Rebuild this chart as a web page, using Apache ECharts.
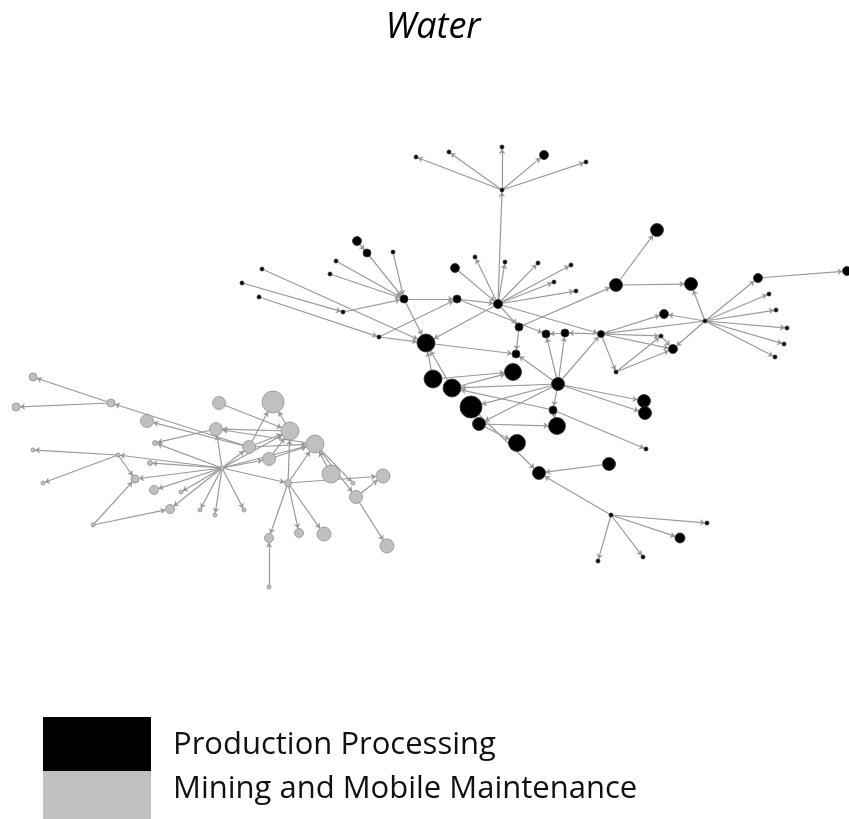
<!DOCTYPE html>
<html>
<head>
<meta charset="utf-8">
<title>Water</title>
<script src="https://cdn.jsdelivr.net/npm/echarts@6/dist/echarts.min.js"></script>
<style>
  html, body { margin: 0; padding: 0; background: #fff; }
  #chart { width: 849px; height: 819px; }
</style>
</head>
<body>
<div id="chart"></div>
<script>
// layout coordinates of each node (x, y) and its weight (drawn diameter)
const prodNodes = [
  ['p0', 502, 190, 4], ['p1', 502, 147, 4], ['p2', 416, 157, 4], ['p3', 449, 152, 4],
  ['p4', 544, 155, 9], ['p5', 586, 162, 4], ['p6', 498, 304, 9], ['p7', 457, 299, 8],
  ['p8', 404, 299, 8], ['p9', 426, 343, 18], ['p10', 519, 327, 8], ['p11', 546, 334, 8],
  ['p12', 516, 354, 8], ['p13', 343, 312, 4], ['p14', 379, 337, 4], ['p15', 242, 283, 4],
  ['p16', 262, 269, 4], ['p17', 259, 297, 4], ['p18', 330, 274, 4], ['p19', 336, 261, 4],
  ['p20', 393, 252, 4], ['p21', 357, 241, 9], ['p22', 367, 253, 8], ['p23', 455, 268, 9],
  ['p24', 475, 257, 4], ['p25', 505, 262, 4], ['p26', 538, 263, 4], ['p27', 571, 265, 4],
  ['p28', 554, 282, 4], ['p29', 576, 291, 4], ['p30', 616, 285, 13], ['p31', 565, 333, 8],
  ['p32', 601, 334, 7], ['p33', 513, 372, 17], ['p34', 558, 384, 13], ['p35', 664, 314, 9],
  ['p36', 673, 349, 9], ['p37', 616, 372, 4], ['p38', 661, 336, 4], ['p39', 657, 230, 13],
  ['p40', 691, 284, 13], ['p41', 705, 321, 4], ['p42', 758, 278, 9], ['p43', 847, 271, 9],
  ['p44', 769, 294, 4], ['p45', 776, 310, 4], ['p46', 787, 328, 4], ['p47', 784, 344, 4],
  ['p48', 775, 357, 4], ['p49', 433, 379, 18], ['p50', 452, 388, 18], ['p51', 471, 407, 22],
  ['p52', 479, 424, 13], ['p53', 557, 426, 17], ['p54', 517, 443, 17], ['p55', 553, 410, 8],
  ['p56', 644, 401, 13], ['p57', 645, 413, 13], ['p58', 646, 449, 4], ['p59', 609, 464, 13],
  ['p60', 539, 473, 13], ['p61', 611, 515, 4], ['p62', 680, 538, 10], ['p63', 598, 561, 4],
  ['p64', 643, 557, 4], ['p65', 707, 523, 4]
];

const mineNodes = [
  ['m0', 33, 377, 8], ['m1', 16, 407, 8], ['m2', 111, 403, 8], ['m3', 147, 421, 13],
  ['m4', 155, 443, 5], ['m5', 33, 450, 4], ['m6', 118, 455, 4], ['m7', 150, 463, 5],
  ['m8', 43, 483, 4], ['m9', 135, 479, 8], ['m10', 154, 490, 9], ['m11', 181, 492, 4],
  ['m12', 170, 509, 9], ['m13', 93, 525, 4], ['m14', 219, 403, 13], ['m15', 273, 402, 22],
  ['m16', 216, 429, 13], ['m17', 290, 431, 18], ['m18', 315, 444, 18], ['m19', 249, 447, 13],
  ['m20', 269, 459, 13], ['m21', 222, 468, 4], ['m22', 288, 483, 7], ['m23', 331, 474, 18],
  ['m24', 353, 483, 4], ['m25', 383, 476, 14], ['m26', 356, 497, 13], ['m27', 387, 546, 14],
  ['m28', 324, 534, 14], ['m29', 299, 533, 9], ['m30', 269, 538, 9], ['m31', 269, 587, 4],
  ['m32', 244, 510, 4], ['m33', 215, 515, 4], ['m34', 200, 510, 4]
];

// directed links: [source, target]
const prodLinks = [
  ['p0', 'p1'], ['p0', 'p2'], ['p0', 'p3'], ['p0', 'p4'], ['p0', 'p5'], ['p6', 'p0'],
  ['p6', 'p24'], ['p6', 'p25'], ['p6', 'p26'], ['p6', 'p27'], ['p6', 'p28'], ['p6', 'p29'],
  ['p23', 'p6'], ['p7', 'p6'], ['p8', 'p7'], ['p13', 'p8'], ['p15', 'p13'], ['p16', 'p9'],
  ['p17', 'p14'], ['p14', 'p9'], ['p14', 'p7'], ['p18', 'p8'], ['p19', 'p8'], ['p21', 'p22'],
  ['p22', 'p8'], ['p20', 'p8'], ['p8', 'p9'], ['p6', 'p9'], ['p7', 'p11'], ['p9', 'p12'],
  ['p10', 'p12'], ['p6', 'p10'], ['p10', 'p30'], ['p6', 'p32'], ['p32', 'p31'], ['p31', 'p11'],
  ['p34', 'p11'], ['p34', 'p31'], ['p34', 'p32'], ['p34', 'p12'], ['p30', 'p39'], ['p30', 'p40'],
  ['p41', 'p40'], ['p41', 'p42'], ['p42', 'p43'], ['p41', 'p44'], ['p41', 'p45'], ['p41', 'p46'],
  ['p41', 'p47'], ['p41', 'p48'], ['p41', 'p35'], ['p41', 'p32'], ['p41', 'p36'], ['p32', 'p35'],
  ['p32', 'p36'], ['p32', 'p37'], ['p32', 'p38'], ['p37', 'p38'], ['p37', 'p36'], ['p38', 'p36'],
  ['p49', 'p9'], ['p50', 'p9'], ['p49', 'p33'], ['p50', 'p33'], ['p34', 'p50'], ['p34', 'p51'],
  ['p34', 'p52'], ['p34', 'p55'], ['p55', 'p53'], ['p34', 'p56'], ['p34', 'p57'], ['p55', 'p58'],
  ['p55', 'p50'], ['p52', 'p53'], ['p52', 'p54'], ['p51', 'p60'], ['p59', 'p60'], ['p61', 'p60'],
  ['p61', 'p62'], ['p61', 'p63'], ['p61', 'p64'], ['p61', 'p65']
];

const mineLinks = [
  ['m2', 'm0'], ['m2', 'm1'], ['m19', 'm2'], ['m19', 'm3'], ['m6', 'm5'], ['m6', 'm8'],
  ['m6', 'm9'], ['m21', 'm6'], ['m13', 'm9'], ['m13', 'm12'], ['m21', 'm9'], ['m21', 'm10'],
  ['m21', 'm12'], ['m21', 'm11'], ['m21', 'm34'], ['m21', 'm33'], ['m21', 'm32'], ['m21', 'm7'],
  ['m21', 'm4'], ['m16', 'm4'], ['m21', 'm16'], ['m21', 'm19'], ['m21', 'm20'], ['m21', 'm22'],
  ['m21', 'm17'], ['m21', 'm18'], ['m14', 'm17'], ['m17', 'm15'], ['m19', 'm15'], ['m17', 'm16'],
  ['m18', 'm16'], ['m19', 'm17'], ['m19', 'm18'], ['m20', 'm18'], ['m20', 'm17'], ['m22', 'm18'],
  ['m22', 'm17'], ['m22', 'm25'], ['m22', 'm30'], ['m22', 'm29'], ['m22', 'm28'], ['m31', 'm30'],
  ['m23', 'm18'], ['m18', 'm24'], ['m18', 'm26'], ['m26', 'm25'], ['m26', 'm27']
];

const groupNames = ['Production Processing', 'Mining and Mobile Maintenance'];
const groupColors = ['#000000', '#c0c0c0'];
const groupBorders = ['#333333', '#8f8f8f'];

const chart = echarts.init(document.getElementById('chart'));

function toNodes(list, g) {
  return list.map(n => ({
    name: n[0],
    value: [n[1], n[2]],
    symbolSize: n[3],
    itemStyle: { color: groupColors[g], borderColor: groupBorders[g], borderWidth: 0.8 }
  }));
}

const nodes = toNodes(prodNodes, 0).concat(toNodes(mineNodes, 1));
const links = prodLinks.concat(mineLinks).map(l => ({ source: l[0], target: l[1] }));

chart.setOption({
  animation: false,
  grid: { left: 0, right: 0, top: 0, bottom: 0 },
  xAxis: { type: 'value', min: 0, max: 849, show: false },
  yAxis: { type: 'value', min: 0, max: 819, inverse: true, show: false },
  graphic: [
    {
      type: 'text', x: 433, y: 28,
      style: { text: 'Water', font: 'italic 36px "Open Sans"', fill: '#000', textAlign: 'center', textVerticalAlign: 'middle' }
    },
    { type: 'rect', shape: { x: 43, y: 717, width: 108, height: 54 }, style: { fill: groupColors[0] } },
    { type: 'rect', shape: { x: 43, y: 771, width: 108, height: 54 }, style: { fill: groupColors[1] } },
    {
      type: 'text', x: 173, y: 745,
      style: { text: groupNames[0], font: '31px "Open Sans"', fill: '#111', textVerticalAlign: 'middle' }
    },
    {
      type: 'text', x: 173, y: 789,
      style: { text: groupNames[1], font: '31px "Open Sans"', fill: '#111', textVerticalAlign: 'middle' }
    }
  ],
  series: [{
    type: 'graph',
    coordinateSystem: 'cartesian2d',
    layout: 'none',
    symbol: 'circle',
    edgeSymbol: ['none', 'arrow'],
    edgeSymbolSize: [0, 5],
    lineStyle: { color: '#999999', width: 1.2, opacity: 1 },
    label: { show: false },
    emphasis: { disabled: true },
    data: nodes,
    links: links
  }]
});
</script>
</body>
</html>
